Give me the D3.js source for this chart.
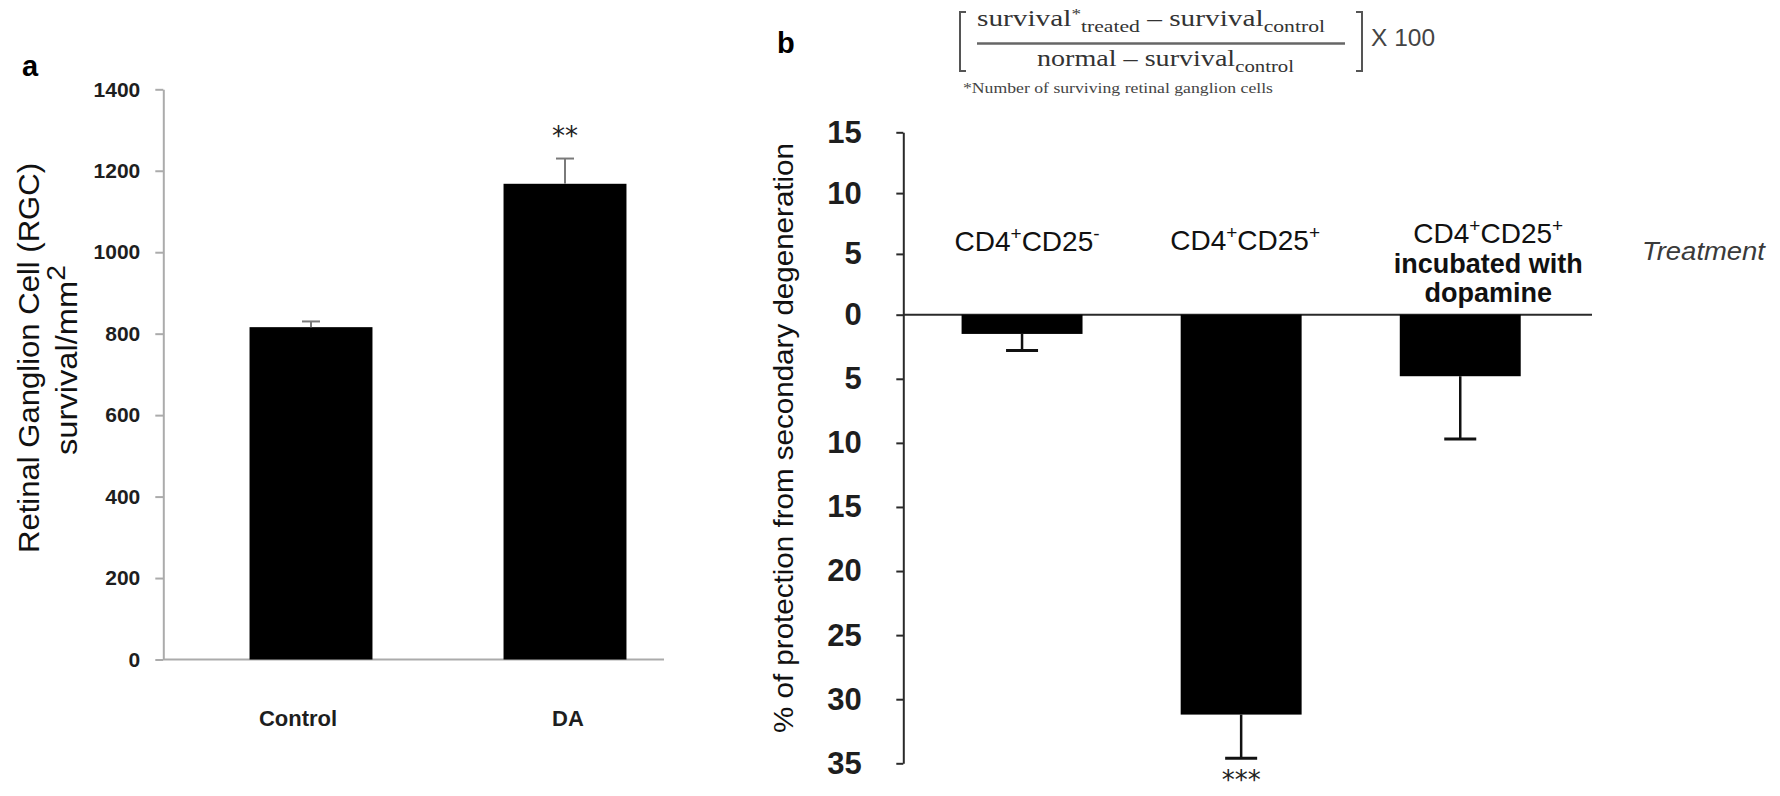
<!DOCTYPE html>
<html>
<head>
<meta charset="utf-8">
<script src="https://cdn.jsdelivr.net/npm/d3@7"></script>
<style>
  body { margin: 0; background: #fff; }
  svg { display: block; }
</style>
</head>
<body>
<svg id="fig" width="1780" height="796"></svg>
<script>
// ---------- data: panel a (RGC survival per mm²) ----------
const groupsA = ["Control", "DA"];
const survivalA = [816, 1168];
const errorA = [14, 62];
const ticksA = [0, 200, 400, 600, 800, 1000, 1200, 1400];
const starsA = ["", "**"];

// ---------- data: panel b (% protection from secondary degeneration) ----------
const groupsB = ["CD4+CD25-", "CD4+CD25+", "CD4+CD25+ incubated with dopamine"];
const labelLinesB = [["CD4^+CD25^-"], ["CD4^+CD25^+"], ["CD4^+CD25^+", "incubated with", "dopamine"]];
const protectionB = [-1.5, -31.2, -4.8];
const errorB = [1.3, 3.4, 4.9];
const ticksB = [15, 10, 5, 0, -5, -10, -15, -20, -25, -30, -35];
const starsB = ["", "***", ""];

const SANS = "'Liberation Sans', Arial, Helvetica, sans-serif";
const SERIF = "'Liberation Serif', 'Times New Roman', serif";

const svg = d3.select("#fig");

// stretch a text run to an exact width
function fit(sel, w) {
  sel.attr("textLength", w).attr("lengthAdjust", "spacingAndGlyphs");
}

// write "CD4^+CD25^-" style strings with raised superscripts
function writeRich(textSel, str, size, supSize, rise) {
  const parts = str.split(/(\^.)/).filter(s => s.length);
  let raised = false;
  parts.forEach(p => {
    if (p.startsWith("^")) {
      textSel.append("tspan").attr("font-size", supSize).attr("dy", -rise).text(p.slice(1));
      raised = true;
    } else {
      const t = textSel.append("tspan").attr("font-size", size).text(p);
      if (raised) { t.attr("dy", rise); raised = false; }
    }
  });
}

// ================= panel a =================
const gA = svg.append("g");
const xA = d3.scaleBand().domain(groupsA).range([184, 692]).paddingInner(0.516).paddingOuter(0.258);
const yA = d3.scaleLinear().domain([0, 1400]).range([659.5, 89.3]);
const axisAx = 163.3;
const nudgeA = [-13, 3];

const yAxisA = gA.append("g")
  .attr("transform", `translate(${axisAx},0)`)
  .call(d3.axisLeft(yA).tickValues(ticksA).tickFormat(d3.format("d"))
    .tickSize(8).tickSizeOuter(0).tickPadding(15));
yAxisA.attr("font-family", SANS);
yAxisA.select(".domain").attr("stroke", "#ababab").attr("stroke-width", 2);
yAxisA.selectAll(".tick line").attr("stroke", "#ababab").attr("stroke-width", 2);
yAxisA.selectAll(".tick text")
  .attr("font-size", 21).attr("font-weight", "bold").attr("fill", "#1e1e1e");

// baseline
gA.append("line")
  .attr("x1", axisAx).attr("x2", 664)
  .attr("y1", yA(0)).attr("y2", yA(0))
  .attr("stroke", "#ababab").attr("stroke-width", 2);

// bars
gA.selectAll("rect.bar").data(groupsA).join("rect")
  .attr("class", "bar")
  .attr("x", d => xA(d))
  .attr("y", (d, i) => yA(survivalA[i]))
  .attr("width", xA.bandwidth())
  .attr("height", (d, i) => yA(0) - yA(survivalA[i]))
  .attr("fill", "#000");

// error bars (upper half only)
const errA = gA.selectAll("g.err").data(groupsA).join("g").attr("class", "err");
errA.append("line")
  .attr("x1", d => xA(d) + xA.bandwidth() / 2).attr("x2", d => xA(d) + xA.bandwidth() / 2)
  .attr("y1", (d, i) => yA(survivalA[i])).attr("y2", (d, i) => yA(survivalA[i] + errorA[i]))
  .attr("stroke", "#7a7a7a").attr("stroke-width", 2);
errA.append("line")
  .attr("x1", d => xA(d) + xA.bandwidth() / 2 - 9).attr("x2", d => xA(d) + xA.bandwidth() / 2 + 9)
  .attr("y1", (d, i) => yA(survivalA[i] + errorA[i])).attr("y2", (d, i) => yA(survivalA[i] + errorA[i]))
  .attr("stroke", "#7a7a7a").attr("stroke-width", 2);

// significance
const starIdxA = groupsA.map((d, i) => i).filter(i => starsA[i]);
gA.selectAll("text.star").data(starIdxA).join("text")
  .attr("class", "star")
  .attr("x", i => xA(groupsA[i]) + xA.bandwidth() / 2)
  .attr("y", i => yA(survivalA[i] + errorA[i]) - 14)
  .attr("text-anchor", "middle")
  .attr("font-family", "'DejaVu Sans', sans-serif").attr("font-size", 26).attr("fill", "#222")
  .text(i => starsA[i]);

// category labels
gA.selectAll("text.cat").data(groupsA).join("text")
  .attr("class", "cat")
  .attr("x", (d, i) => xA(d) + xA.bandwidth() / 2 + nudgeA[i])
  .attr("y", 726)
  .attr("text-anchor", "middle")
  .attr("font-family", SANS).attr("font-size", 22).attr("font-weight", "bold").attr("fill", "#1e1e1e")
  .text(d => d);

// y-axis title
gA.append("text")
  .attr("transform", "translate(39,358) rotate(-90)")
  .attr("text-anchor", "middle")
  .attr("font-family", SANS).attr("font-size", 30).attr("fill", "#111")
  .text("Retinal Ganglion Cell (RGC)")
  .call(fit, 390);
const yTitle2 = gA.append("text")
  .attr("transform", "translate(77,360) rotate(-90)")
  .attr("text-anchor", "middle")
  .attr("font-family", SANS).attr("font-size", 30).attr("fill", "#111");
yTitle2.append("tspan").text("survival/mm");
yTitle2.append("tspan").attr("font-size", 26).attr("dy", -12).text("2");
yTitle2.call(fit, 190);

// panel letter
svg.append("text").attr("x", 22).attr("y", 76)
  .attr("font-family", SANS).attr("font-size", 29).attr("font-weight", "bold").text("a");

// ================= panel b =================
const gB = svg.append("g");
const xB = d3.scaleBand().domain(groupsB).range([912.5, 1569.8]).paddingInner(0.448).paddingOuter(0.224);
const yB = d3.scaleLinear().domain([15, 0, -35]).range([132.3, 314.7, 763.3]);
const axisBx = 903.3;
const nudgeB = [5, 4, 28];

const yAxisB = gB.append("g")
  .attr("transform", `translate(${axisBx},0)`)
  .call(d3.axisLeft(yB).tickValues(ticksB).tickFormat(d => Math.abs(d))
    .tickSize(7).tickSizeOuter(0).tickPadding(34.6));
yAxisB.attr("font-family", SANS);
yAxisB.select(".domain").attr("stroke", "#2a2a2a").attr("stroke-width", 2);
yAxisB.selectAll(".tick line").attr("stroke", "#2a2a2a").attr("stroke-width", 2);
yAxisB.selectAll(".tick text")
  .attr("font-size", 31).attr("font-weight", "bold").attr("fill", "#1e1e1e");

// zero line
gB.append("line")
  .attr("x1", axisBx).attr("x2", 1592)
  .attr("y1", yB(0)).attr("y2", yB(0))
  .attr("stroke", "#2a2a2a").attr("stroke-width", 2);

// bars (hanging below zero)
gB.selectAll("rect.bar").data(groupsB).join("rect")
  .attr("class", "bar")
  .attr("x", d => xB(d))
  .attr("y", (d, i) => Math.min(yB(0), yB(protectionB[i])))
  .attr("width", xB.bandwidth())
  .attr("height", (d, i) => Math.abs(yB(protectionB[i]) - yB(0)))
  .attr("fill", "#000");

// error bars (outer half only)
const errB = gB.selectAll("g.err").data(groupsB).join("g").attr("class", "err");
errB.append("line")
  .attr("x1", d => xB(d) + xB.bandwidth() / 2).attr("x2", d => xB(d) + xB.bandwidth() / 2)
  .attr("y1", (d, i) => yB(protectionB[i])).attr("y2", (d, i) => yB(protectionB[i] - errorB[i]))
  .attr("stroke", "#111").attr("stroke-width", 2.5);
errB.append("line")
  .attr("x1", d => xB(d) + xB.bandwidth() / 2 - 16).attr("x2", d => xB(d) + xB.bandwidth() / 2 + 16)
  .attr("y1", (d, i) => yB(protectionB[i] - errorB[i])).attr("y2", (d, i) => yB(protectionB[i] - errorB[i]))
  .attr("stroke", "#111").attr("stroke-width", 3);

// significance
const starIdxB = groupsB.map((d, i) => i).filter(i => starsB[i]);
gB.selectAll("text.star").data(starIdxB).join("text")
  .attr("class", "star")
  .attr("x", i => xB(groupsB[i]) + xB.bandwidth() / 2)
  .attr("y", i => yB(protectionB[i] - errorB[i]) + 31)
  .attr("text-anchor", "middle")
  .attr("font-family", "'DejaVu Sans', sans-serif").attr("font-size", 26).attr("fill", "#222")
  .text(i => starsB[i]);

// category labels above the zero line
const lineBase = [251, 250, 243];
groupsB.forEach((g, i) => {
  labelLinesB[i].forEach((line, j) => {
    const t = gB.append("text")
      .attr("x", xB(g) + xB.bandwidth() / 2 + nudgeB[i])
      .attr("y", lineBase[i] + j * 29.5)
      .attr("text-anchor", "middle")
      .attr("font-family", SANS).attr("fill", "#111")
      .attr("font-size", j === 0 ? 28 : 27)
      .attr("font-weight", j === 0 ? "normal" : "bold");
    writeRich(t, line, j === 0 ? 28 : 27, 19, 11);
  });
});

// axis caption
gB.append("text")
  .attr("x", 1642).attr("y", 260)
  .attr("font-family", SANS).attr("font-size", 26).attr("font-style", "italic").attr("fill", "#3a3a3a")
  .text("Treatment")
  .call(fit, 123);

// y-axis title
gB.append("text")
  .attr("transform", "translate(793,438) rotate(-90)")
  .attr("text-anchor", "middle")
  .attr("font-family", SANS).attr("font-size", 28).attr("fill", "#111")
  .text("% of protection from secondary degeneration")
  .call(fit, 590);

// panel letter
svg.append("text").attr("x", 777).attr("y", 53)
  .attr("font-family", SANS).attr("font-size", 29).attr("font-weight", "bold").text("b");

// ---------- formula ----------
const gF = svg.append("g").attr("fill", "#333");
const num = gF.append("text").attr("x", 977).attr("y", 26)
  .attr("font-family", SERIF).attr("font-size", 23);
num.append("tspan").text("survival");
num.append("tspan").attr("font-size", 15).attr("dy", -7).text("*");
num.append("tspan").attr("font-size", 17).attr("dy", 13).text("treated");
num.append("tspan").attr("dy", -6).text(" \u2013 survival");
num.append("tspan").attr("font-size", 17).attr("dy", 6).text("control");
num.call(fit, 348);

gF.append("line").attr("x1", 977).attr("x2", 1345).attr("y1", 43.5).attr("y2", 43.5)
  .attr("stroke", "#666").attr("stroke-width", 2.5);

const den = gF.append("text").attr("x", 1037).attr("y", 66)
  .attr("font-family", SERIF).attr("font-size", 23);
den.append("tspan").text("normal \u2013 survival");
den.append("tspan").attr("font-size", 17).attr("dy", 6).text("control");
den.call(fit, 257);

gF.append("text").attr("x", 963).attr("y", 93)
  .attr("font-family", SERIF).attr("font-size", 14).attr("fill", "#444")
  .text("*Number of surviving retinal ganglion cells")
  .call(fit, 310);

gF.append("path").attr("d", "M966,12H960V71H966")
  .attr("fill", "none").attr("stroke", "#555").attr("stroke-width", 2);
gF.append("path").attr("d", "M1356,12H1362V71H1356")
  .attr("fill", "none").attr("stroke", "#555").attr("stroke-width", 2);

gF.append("text").attr("x", 1371).attr("y", 46)
  .attr("font-family", SANS).attr("font-size", 24).attr("fill", "#444")
  .text("X 100")
  .call(fit, 64);
</script>
</body>
</html>
